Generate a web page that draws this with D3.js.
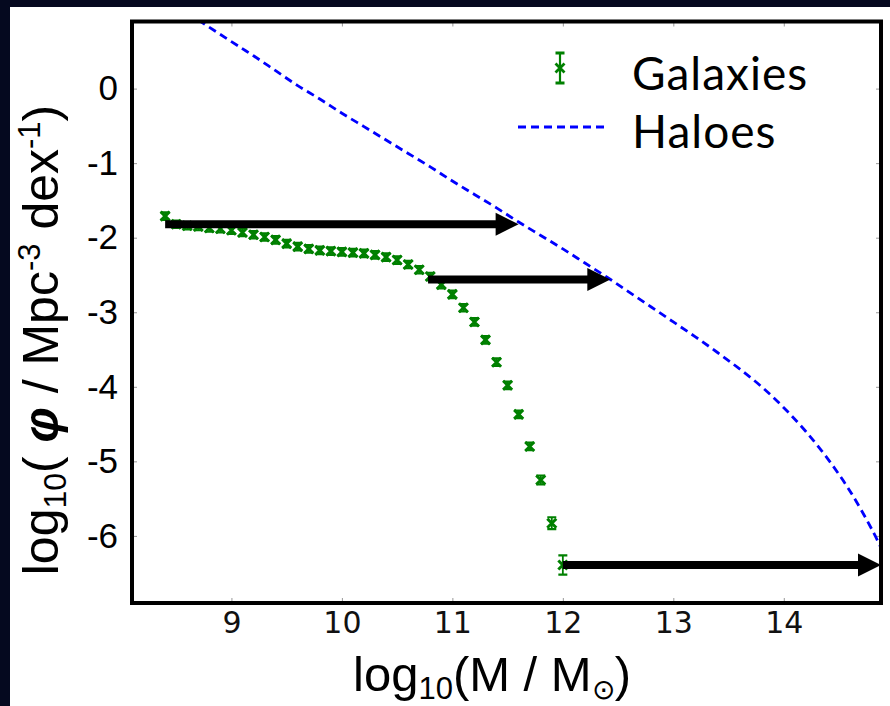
<!DOCTYPE html>
<html>
<head>
<meta charset="utf-8">
<script src="https://cdn.jsdelivr.net/npm/d3@7"></script>
<style>
  body { margin: 0; background: #05091f; }
  svg { display: block; }
</style>
</head>
<body>
<svg id="chart"></svg>
<script>
// galaxy stellar mass function, log10(M) bins and log10(phi)
var galaxyMass = [8.4, 8.5, 8.6, 8.7, 8.8, 8.9, 9.0, 9.1, 9.2, 9.3, 9.4, 9.5, 9.6, 9.7, 9.8, 9.9,
                  10.0, 10.1, 10.2, 10.3, 10.4, 10.5, 10.6, 10.7, 10.8, 10.9, 11.0, 11.1, 11.2,
                  11.3, 11.4, 11.5, 11.6, 11.7, 11.8, 11.9, 12.0];
var galaxyPhi = [-1.71, -1.82, -1.84, -1.85, -1.87, -1.88, -1.90, -1.93, -1.96, -1.99, -2.03, -2.08,
                 -2.12, -2.15, -2.17, -2.18, -2.19, -2.20, -2.21, -2.23, -2.26, -2.30, -2.36, -2.43,
                 -2.52, -2.63, -2.76, -2.94, -3.13, -3.37, -3.67, -3.98, -4.37, -4.80, -5.25, -5.83, -6.39];
var galaxyErr = [0.05, 0.05, 0.05, 0.05, 0.05, 0.05, 0.05, 0.05, 0.05, 0.05, 0.05, 0.05,
                 0.05, 0.05, 0.05, 0.05, 0.05, 0.05, 0.05, 0.05, 0.05, 0.05, 0.05, 0.05,
                 0.05, 0.05, 0.05, 0.05, 0.05, 0.05, 0.05, 0.05, 0.05, 0.05, 0.06, 0.08, 0.13];

// halo mass function
var haloMass = [8.7, 9.0, 9.2, 9.4, 9.6, 9.8, 10.0, 10.2, 10.4, 10.6, 10.8, 11.0, 11.2, 11.4, 11.6,
                11.8, 12.0, 12.2, 12.4, 12.6, 12.8, 13.0, 13.2, 13.4, 13.6, 13.8, 14.0, 14.2, 14.4,
                14.6, 14.8, 14.9];
var haloPhi = [0.92, 0.63, 0.44, 0.24, 0.04, -0.14, -0.33, -0.51, -0.69, -0.87, -1.05, -1.24, -1.42,
               -1.60, -1.79, -1.97, -2.15, -2.34, -2.53, -2.73, -2.93, -3.13, -3.33, -3.54, -3.76,
               -4.00, -4.28, -4.60, -4.97, -5.40, -5.92, -6.22];

// abundance matching arrows
var arrowFrom = [8.4, 10.78, 12.0];
var arrowTo = [11.6, 12.43, 14.88];
var arrowPhi = [-1.82, -2.56, -6.39];

var xTicks = [9, 10, 11, 12, 13, 14];
var yTicks = [0, -1, -2, -3, -4, -5, -6];

var width = 890, height = 706;
var plotLeft = 132, plotRight = 881, plotTop = 21.5, plotBottom = 603;

var svg = d3.select('#chart')
            .attr('width', width)
            .attr('height', height);

svg.append('rect')
   .attr('width', width).attr('height', height)
   .attr('fill', '#05091f');
svg.append('rect')
   .attr('x', 10).attr('y', 7)
   .attr('width', width - 10).attr('height', height - 7)
   .attr('fill', 'white');

var xScale = d3.scaleLinear().domain([8.1, 14.88]).range([plotLeft, plotRight]);
var yScale = d3.scaleLinear().domain([-6.9, 0.9]).range([plotBottom, plotTop]);

svg.append('clipPath').attr('id', 'plotclip')
   .append('rect')
   .attr('x', plotLeft).attr('y', plotTop)
   .attr('width', plotRight - plotLeft).attr('height', plotBottom - plotTop);

// ticks on all four sides, pointing inward
svg.append('g')
   .attr('transform', `translate(0,${plotBottom})`)
   .call(d3.axisBottom(xScale).tickValues(xTicks).tickSizeInner(-5).tickSizeOuter(0).tickPadding(9)
           .tickFormat(d3.format('d')))
   .call(g => g.select('.domain').remove())
   .call(g => g.selectAll('line').attr('stroke', '#999'))
   .call(g => g.selectAll('text')
               .style('font-family', '"DejaVu Sans", sans-serif')
               .style('font-size', '30px')
               .attr('fill', '#111'));

svg.append('g')
   .attr('transform', `translate(0,${plotTop})`)
   .call(d3.axisTop(xScale).tickValues(xTicks).tickSizeInner(-5).tickSizeOuter(0).tickFormat(''))
   .call(g => g.select('.domain').remove())
   .call(g => g.selectAll('line').attr('stroke', '#999'));

svg.append('g')
   .attr('transform', `translate(${plotLeft},0)`)
   .call(d3.axisLeft(yScale).tickValues(yTicks).tickSizeInner(-5).tickSizeOuter(0).tickPadding(14)
           .tickFormat(d => d === 0 ? '0' : '-' + Math.abs(d)))
   .call(g => g.select('.domain').remove())
   .call(g => g.selectAll('line').attr('stroke', '#999'))
   .call(g => g.selectAll('text')
               .style('font-family', '"Liberation Sans", Arial, sans-serif')
               .style('font-size', '35px')
               .attr('fill', '#000'));

svg.append('g')
   .attr('transform', `translate(${plotRight},0)`)
   .call(d3.axisRight(yScale).tickValues(yTicks).tickSizeInner(-5).tickSizeOuter(0).tickFormat(''))
   .call(g => g.select('.domain').remove())
   .call(g => g.selectAll('line').attr('stroke', '#999'));

// haloes
var plot = svg.append('g').attr('clip-path', 'url(#plotclip)');

var line = d3.line()
             .x((d, i) => xScale(haloMass[i]))
             .y(d => yScale(d))
             .curve(d3.curveCatmullRom);

plot.append('path')
    .datum(haloPhi)
    .attr('d', line)
    .attr('fill', 'none')
    .attr('stroke', '#0000ff')
    .attr('stroke-width', 2.8)
    .attr('stroke-dasharray', '8,5');

// galaxies with error bars
var gal = galaxyMass.map((m, i) => ({m: m, phi: galaxyPhi[i], err: galaxyErr[i]}));
var green = '#008000';

var pts = plot.selectAll('.gal')
    .data(gal)
    .enter()
    .append('g')
    .attr('class', 'gal')
    .attr('transform', d => `translate(${xScale(d.m)},0)`);

pts.append('line')
   .attr('y1', d => yScale(d.phi + d.err))
   .attr('y2', d => yScale(d.phi - d.err))
   .attr('stroke', green).attr('stroke-width', 1.8);
pts.append('path')
   .attr('d', d => {
       var t = yScale(d.phi + d.err), b = yScale(d.phi - d.err);
       return `M-4.5,${t}H4.5M-4.5,${b}H4.5`;
   })
   .attr('stroke', green).attr('stroke-width', 2.2);
pts.append('path')
   .attr('d', d => {
       var y = yScale(d.phi), s = 4.5;
       return `M${-s},${y - s}L${s},${y + s}M${-s},${y + s}L${s},${y - s}`;
   })
   .attr('stroke', green).attr('stroke-width', 3);

// arrows
var headLen = 23, headHalf = 11.5;
arrowPhi.forEach(function(p, i) {
  var y = yScale(p), x0 = xScale(arrowFrom[i]), x1 = xScale(arrowTo[i]);
  svg.append('line')
     .attr('x1', x0).attr('x2', x1 - headLen + 2)
     .attr('y1', y).attr('y2', y)
     .attr('stroke', 'black').attr('stroke-width', 8);
  svg.append('path')
     .attr('d', `M${x1},${y}L${x1 - headLen},${y - headHalf}L${x1 - headLen},${y + headHalf}Z`)
     .attr('fill', 'black');
});

// frame
svg.append('rect')
   .attr('x', plotLeft).attr('y', plotTop)
   .attr('width', plotRight - plotLeft).attr('height', plotBottom - plotTop)
   .attr('fill', 'none')
   .attr('stroke', 'black')
   .attr('stroke-width', 4);

// legend
var lg = svg.append('g');
lg.append('line')
  .attr('x1', 560).attr('x2', 560).attr('y1', 53).attr('y2', 83)
  .attr('stroke', green).attr('stroke-width', 2.2);
lg.append('path')
  .attr('d', 'M555.5,53H564.5M555.5,83H564.5M555.5,63.5L564.5,72.5M555.5,72.5L564.5,63.5')
  .attr('stroke', green).attr('stroke-width', 2.8);
lg.append('line')
  .attr('x1', 518).attr('x2', 607).attr('y1', 127).attr('y2', 127)
  .attr('stroke', '#0000ff').attr('stroke-width', 2.8)
  .attr('stroke-dasharray', '8,5');
lg.selectAll('.lgtext')
  .data(['Galaxies', 'Haloes'])
  .enter()
  .append('text')
  .attr('x', 632)
  .attr('y', (d, i) => 90 + i * 58)
  .style('font-family', 'Lato, "Open Sans", sans-serif')
  .style('font-size', '46px')
  .style('letter-spacing', '1px')
  .attr('fill', '#000')
  .text(d => d);

// axis titles
var xt = svg.append('text')
   .attr('x', 492).attr('y', 691)
   .attr('text-anchor', 'middle')
   .style('font-family', '"Liberation Sans", Arial, sans-serif')
   .style('font-size', '49px')
   .attr('fill', '#000');
xt.append('tspan').text('log');
xt.append('tspan').attr('dy', 8).style('font-size', '31px').text('10');
xt.append('tspan').attr('dy', -8).text('(M / M');
xt.append('tspan').attr('dy', 8).style('font-size', '28px').text('\u2299');
xt.append('tspan').attr('dy', -8).text(')');

var yt = svg.append('text')
   .attr('transform', 'translate(58,340) rotate(-90)')
   .attr('text-anchor', 'middle')
   .style('font-family', '"Liberation Sans", Arial, sans-serif')
   .style('font-size', '50px')
   .attr('fill', '#000');
yt.append('tspan').text('log');
yt.append('tspan').attr('dy', 8).style('font-size', '32px').text('10');
yt.append('tspan').attr('dy', -8).text('( ');
yt.append('tspan').style('font-weight', 'bold').style('font-style', 'italic').text('\u03c6');
yt.append('tspan').text(' / Mpc');
yt.append('tspan').attr('dy', -18).style('font-size', '31px').text('-3');
yt.append('tspan').attr('dy', 18).text(' dex');
yt.append('tspan').attr('dy', -18).style('font-size', '31px').text('-1');
yt.append('tspan').attr('dy', 18).text(')');
</script>
</body>
</html>
